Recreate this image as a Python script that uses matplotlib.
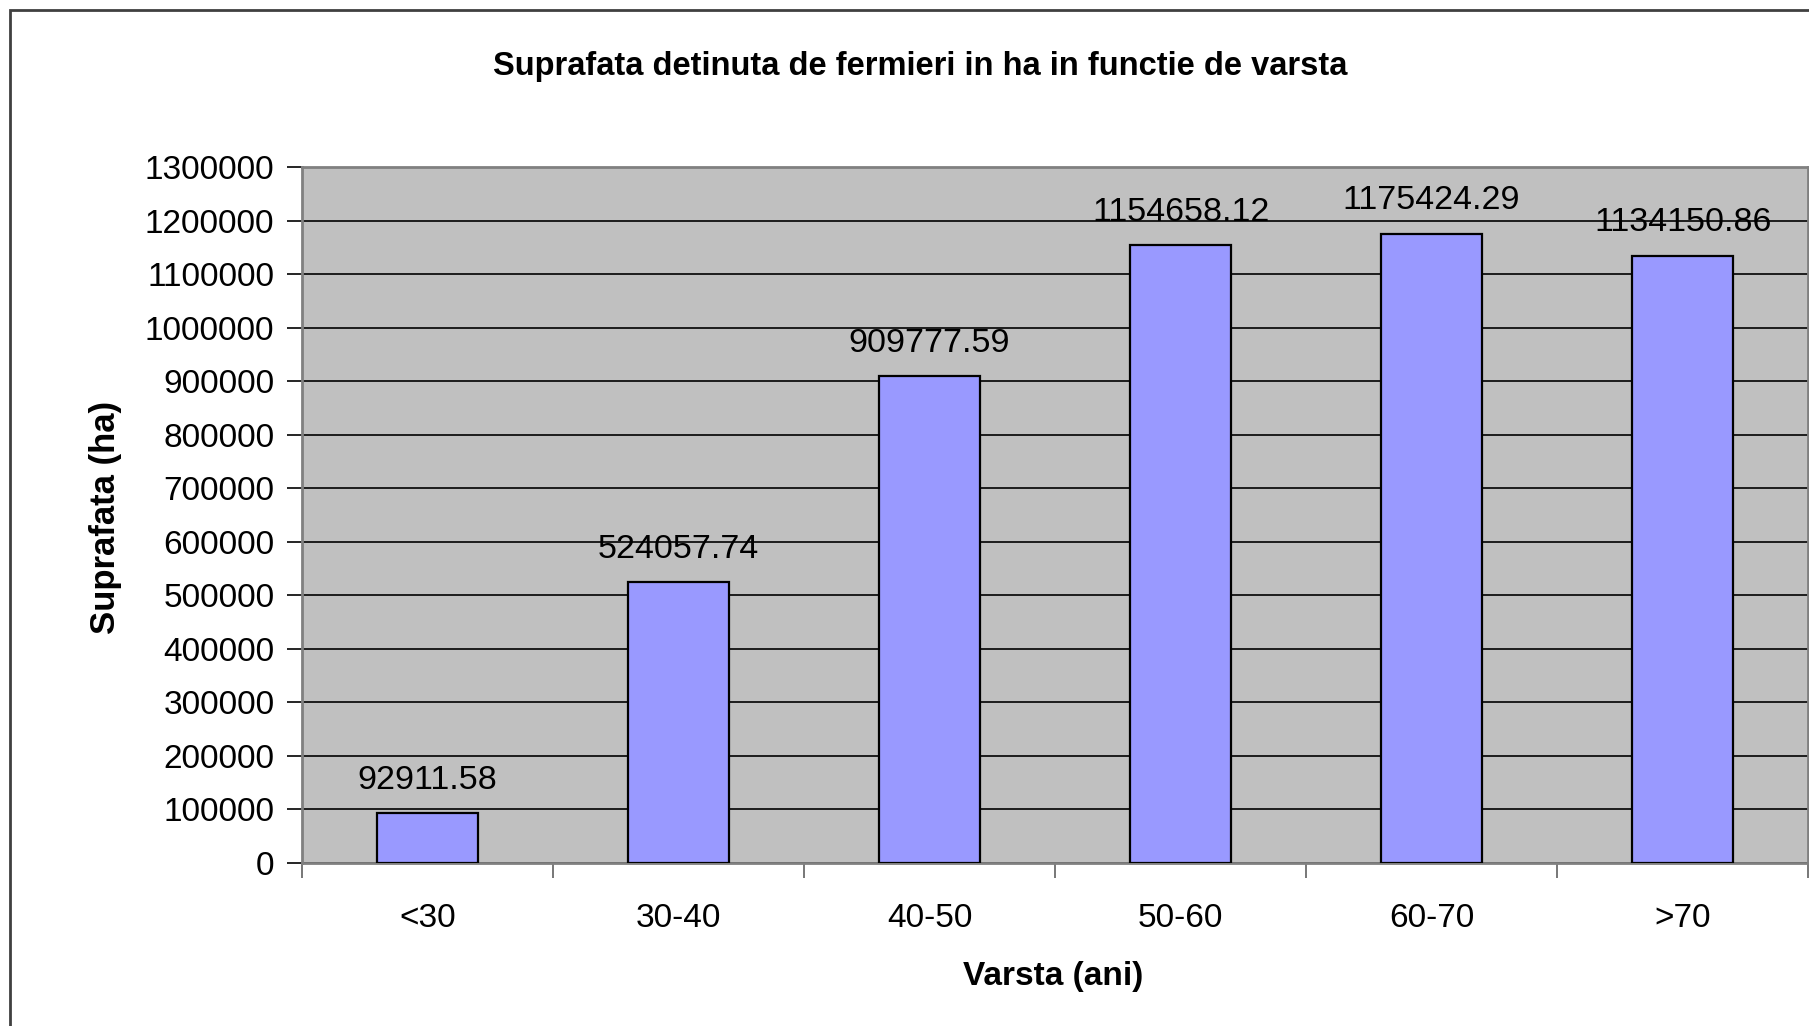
import matplotlib.pyplot as plt
from matplotlib.patches import Rectangle

categorii = ['<30', '30-40', '40-50', '50-60', '60-70', '>70']
suprafata = [92911.58, 524057.74, 909777.59, 1154658.12, 1175424.29, 1134150.86]
y_ticks = list(range(0, 1300001, 100000))

plt.rcParams['font.family'] = ['Liberation Sans', 'DejaVu Sans']

fig = plt.figure(figsize=(18.09, 10.26), dpi=100)
ax = fig.add_axes([0.167, 0.159, 0.8325, 0.678])

# chenarul graficului (taiat la dreapta si jos)
fig.patches.append(Rectangle((10 / 1809, -0.1), 1.2, 1 - 10 / 1026 + 0.1,
                             transform=fig.transFigure, fill=False,
                             edgecolor='#404040', linewidth=2))

x = list(range(len(categorii)))
ax.set_facecolor('#C0C0C0')
ax.bar(x, suprafata, width=0.405, color='#9999FF', edgecolor='black',
       linewidth=1.6, zorder=3)

for xi, v in zip(x, suprafata):
    ax.annotate(f'{v:.2f}', (xi, v), xytext=(0, 33), textcoords='offset pixels',
                ha='center', va='center', fontsize=24.5, zorder=4)

ax.set_xlim(-0.5, len(categorii) - 0.5)
ax.set_ylim(0, 1300000)
ax.set_yticks(y_ticks)
ax.set_yticklabels([str(t) for t in y_ticks], fontsize=24)
ax.set_xticks(x)
ax.set_xticklabels(categorii, fontsize=24)
ax.set_xticks([i - 0.5 for i in range(len(categorii) + 1)], minor=True)
ax.tick_params(axis='x', which='major', length=0, pad=29)
ax.tick_params(axis='x', which='minor', length=11, width=1.2, color='#606060')
ax.tick_params(axis='y', length=11, width=1.2, color='black', pad=9)

ax.grid(axis='y', color='black', linewidth=1.2, zorder=1)
for s in ax.spines.values():
    s.set_color('#808080')
    s.set_linewidth(2)

fig.text(920 / 1809, 1 - 67 / 1026,
         'Suprafata detinuta de fermieri in ha in functie de varsta',
         ha='center', va='center', fontsize=23.5, fontweight='bold')
fig.text(106 / 1809, 1 - 517 / 1026, 'Suprafata (ha)', rotation=90,
         ha='center', va='center', fontsize=25, fontweight='bold')
fig.text(1053 / 1809, 1 - 977 / 1026, 'Varsta (ani)',
         ha='center', va='center', fontsize=24, fontweight='bold')

fig.savefig('out.png', dpi=100)
